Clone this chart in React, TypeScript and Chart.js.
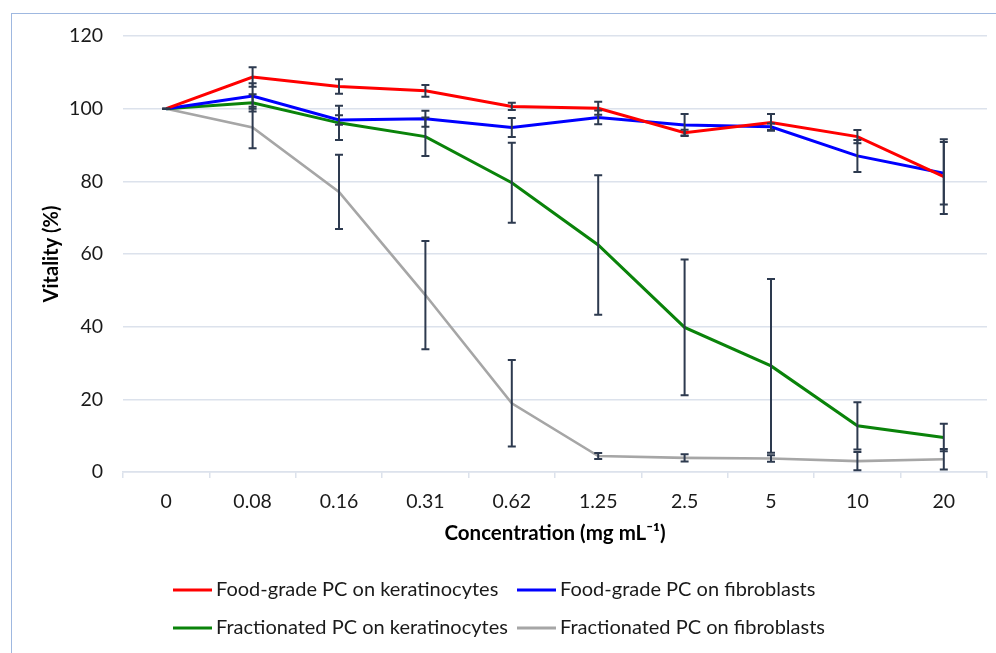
import React, { useEffect, useRef } from "react";
import { Chart, registerables } from "chart.js";

Chart.register(...registerables);

const categories = ["0", "0.08", "0.16", "0.31", "0.62", "1.25", "2.5", "5", "10", "20"];

const foodKeratinocytes = [100, 108.7, 106.1, 104.9, 100.6, 100.1, 93.4, 96.2, 92.3, 81.3];
const foodKeratinocytesErr = [0, 2.7, 2.0, 1.6, 1.0, 1.8, 0.8, 2.3, 1.8, 10.3];

const foodFibroblasts = [100, 103.5, 96.9, 97.2, 94.8, 97.6, 95.5, 95.0, 87.0, 82.2];
const foodFibroblastsErr = [0, 3.5, 1.3, 2.2, 2.6, 1.9, 3.0, 0.9, 4.4, 8.6];

const fracKeratinocytes = [100, 101.6, 96.1, 92.3, 79.6, 62.5, 39.8, 29.2, 12.7, 9.5];
const fracKeratinocytesErr = [0, 2.4, 4.7, 5.3, 11.0, 19.2, 18.7, 23.9, 6.5, 3.8];

const fracFibroblasts = [100, 94.8, 77.1, 48.7, 18.9, 4.4, 3.9, 3.7, 3.0, 3.5];
const fracFibroblastsErr = [0, 5.7, 10.2, 14.9, 11.9, 0.8, 1.0, 0.9, 2.5, 2.8];

const seriesLabels = [
  "Food-grade PC on keratinocytes",
  "Food-grade PC on fibroblasts",
  "Fractionated PC on keratinocytes",
  "Fractionated PC on fibroblasts",
];

const yTicks = [0, 20, 40, 60, 80, 100, 120];

const FONT = "Lato, 'Open Sans', sans-serif";
const GRID = "#dce2ec";
const ERR = "#2d3a4f";
const TEXT = "#1a1a1a";

const errorBarPlugin = {
  id: "errorBars",
  afterDatasetsDraw(chart: any) {
    const ctx = chart.ctx;
    const xs = chart.scales.x;
    const ys = chart.scales.y;
    ctx.save();
    ctx.strokeStyle = ERR;
    ctx.lineWidth = 2;
    chart.data.datasets.forEach((ds: any) => {
      const errs: number[] = ds.errorBars || [];
      ds.data.forEach((v: number, i: number) => {
        const e = errs[i] || 0;
        const x = xs.getPixelForValue(i);
        const yt = ys.getPixelForValue(v + e);
        const yb = ys.getPixelForValue(v - e);
        ctx.beginPath();
        ctx.moveTo(x, yt);
        ctx.lineTo(x, yb);
        ctx.moveTo(x - 4, yt);
        ctx.lineTo(x + 4, yt);
        ctx.moveTo(x - 4, yb);
        ctx.lineTo(x + 4, yb);
        ctx.stroke();
      });
    });
    ctx.restore();
  },
};

const legendPlugin = {
  id: "customLegend",
  afterDraw(chart: any) {
    const ctx = chart.ctx;
    const pos = [
      [173, 590],
      [517, 590],
      [173, 628],
      [517, 628],
    ];
    ctx.save();
    ctx.font = `20px ${FONT}`;
    ctx.textBaseline = "middle";
    ctx.textAlign = "left";
    chart.data.datasets.forEach((ds: any, i: number) => {
      const [x, y] = pos[i];
      ctx.strokeStyle = ds.borderColor;
      ctx.lineWidth = 3;
      ctx.beginPath();
      ctx.moveTo(x, y);
      ctx.lineTo(x + 39, y);
      ctx.stroke();
      ctx.fillStyle = TEXT;
      ctx.fillText(ds.label, x + 43, y);
    });
    ctx.restore();
  },
};

export default function App() {
  const ref = useRef<HTMLCanvasElement | null>(null);

  useEffect(() => {
    if (!ref.current) return;
    const mk = (label: string, data: number[], err: number[], color: string, w: number) => ({
      label,
      data,
      errorBars: err,
      borderColor: color,
      backgroundColor: color,
      borderWidth: w,
      pointRadius: 0,
      tension: 0,
      fill: false,
    });
    const chart = new Chart(ref.current, {
      type: "line",
      data: {
        labels: categories,
        datasets: [
          mk(seriesLabels[0], foodKeratinocytes, foodKeratinocytesErr, "#ff0000", 3),
          mk(seriesLabels[1], foodFibroblasts, foodFibroblastsErr, "#0000ff", 3),
          mk(seriesLabels[2], fracKeratinocytes, fracKeratinocytesErr, "#0a830a", 3),
          mk(seriesLabels[3], fracFibroblasts, fracFibroblastsErr, "#a6a6a6", 2.6),
        ] as any,
      },
      options: {
        responsive: false,
        animation: false,
        layout: { padding: { left: 0, top: 36, right: 9, bottom: 106 } },
        plugins: {
          legend: { display: false },
          tooltip: { enabled: false },
        },
        scales: {
          x: {
            type: "category",
            offset: true,
            grid: {
              display: true,
              drawOnChartArea: false,
              drawTicks: true,
              tickLength: 6,
              color: GRID,
              lineWidth: 1.5,
              offset: true,
            },
            border: { display: true, color: GRID, width: 1.5 },
            ticks: {
              padding: 12,
              color: TEXT,
              font: { size: 19.5, family: FONT },
              maxRotation: 0,
              autoSkip: false,
            },
            title: {
              display: true,
              text: "Concentration (mg mL\u207B\u00B9)",
              color: "#000",
              font: { size: 20.5, weight: "bold", family: FONT },
              padding: { top: 0, bottom: 1 },
            },
            afterFit: (s: any) => {
              s.height = 75;
            },
          },
          y: {
            min: 0,
            max: 120,
            afterBuildTicks: (s: any) => {
              s.ticks = yTicks.map((v) => ({ value: v }));
            },
            grid: { color: GRID, lineWidth: 1.5, drawTicks: false },
            border: { display: false },
            ticks: {
              padding: 20,
              color: TEXT,
              font: { size: 19.5, family: FONT },
            },
            title: {
              display: true,
              text: "Vitality (%)",
              color: "#000",
              font: { size: 20, weight: "bold", family: FONT },
              padding: { top: 40, bottom: 0 },
            },
            afterFit: (s: any) => {
              s.width = 123;
            },
          },
        },
      } as any,
      plugins: [errorBarPlugin, legendPlugin],
    });
    return () => chart.destroy();
  }, []);

  return (
    <div style={{ position: "fixed", left: 0, top: 0, width: 996, height: 653, overflow: "hidden", background: "#fff" }}>
      <div
        style={{
          position: "absolute",
          left: 11,
          top: 13,
          width: 1400,
          height: 1000,
          border: "1.5px solid #9fb8e0",
          boxSizing: "border-box",
        }}
      />
      <canvas ref={ref} width={996} height={653} style={{ position: "absolute", left: 0, top: 0, width: 996, height: 653 }} />
    </div>
  );
}
